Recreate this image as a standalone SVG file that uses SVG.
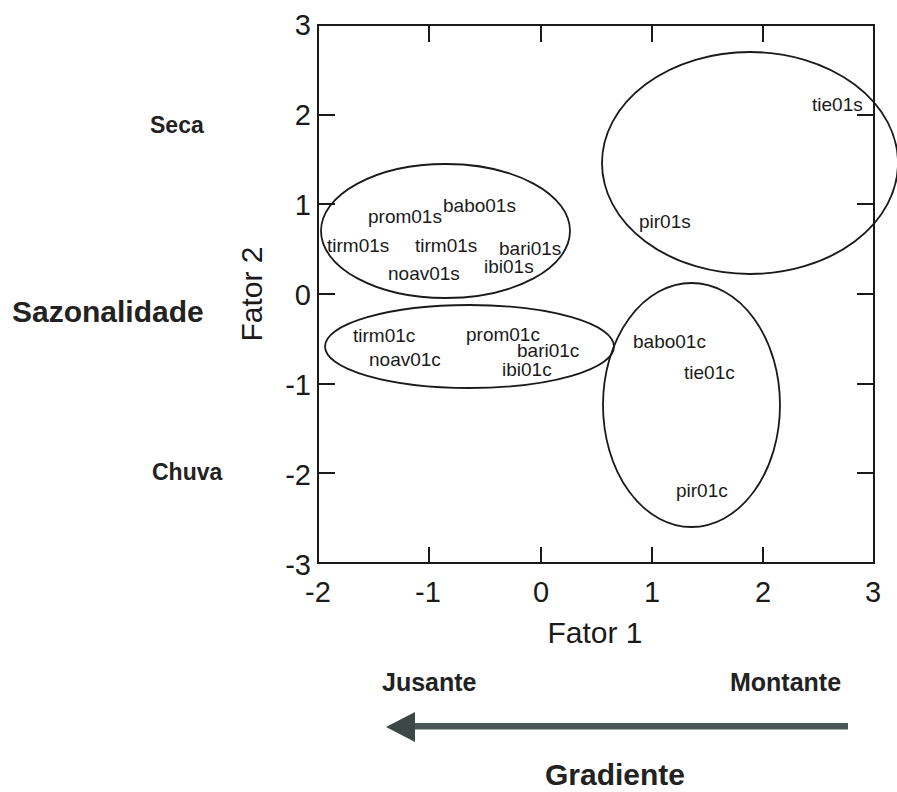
<svg xmlns="http://www.w3.org/2000/svg" width="897" height="792" viewBox="0 0 897 792">
<style>
.ax{stroke:#1a1a1a;stroke-width:2;fill:none}
.el{stroke:#1a1a1a;stroke-width:1.8;fill:none}
.tk{font-family:"Liberation Sans",Arial,sans-serif;font-size:29px;fill:#1a1a1a}
.lb{font-family:"Liberation Sans",Arial,sans-serif;font-size:19px;fill:#1a1a1a}
.ttl{font-family:"Liberation Sans",Arial,sans-serif;font-size:30px;fill:#1a1a1a}
.bd{font-family:"Liberation Sans",Arial,sans-serif;font-weight:bold;fill:#222}
</style>
<rect width="897" height="792" fill="#fff"/>
<g id="axes">
<rect class="ax" x="318" y="25" width="556" height="538"/>
<path class="ax" d="M429,25v17M541,25v17M652,25v17M763,25v17M429,563v-16M541,563v-16M652,563v-16M763,563v-16M318,115h17M318,204h17M318,294h17M318,384h17M318,473h17M874,115h-17M874,204h-17M874,294h-17M874,384h-17M874,473h-17"/>
<g class="tk" text-anchor="middle">
<text x="318" y="602">-2</text>
<text x="428" y="602">-1</text>
<text x="541" y="602">0</text>
<text x="652" y="602">1</text>
<text x="763" y="602">2</text>
<text x="873" y="602">3</text>
</g>
<g class="tk" text-anchor="end">
<text x="311" y="35">3</text>
<text x="311" y="125">2</text>
<text x="311" y="215">1</text>
<text x="311" y="305">0</text>
<text x="311" y="395">-1</text>
<text x="311" y="485">-2</text>
<text x="311" y="575">-3</text>
</g>
<text class="ttl" x="595" y="643" text-anchor="middle">Fator 1</text>
<text class="ttl" transform="translate(262,294) rotate(-90)" text-anchor="middle">Fator 2</text>
</g>
<g id="group-seca-left">
<ellipse class="el" cx="445.5" cy="231" rx="124.5" ry="67"/>
<text class="lb" x="368" y="223">prom01s</text>
<text class="lb" x="443" y="212">babo01s</text>
<text class="lb" x="327" y="252">tirm01s</text>
<text class="lb" x="415" y="252">tirm01s</text>
<text class="lb" x="499" y="255">bari01s</text>
<text class="lb" x="484" y="273">ibi01s</text>
<text class="lb" x="388" y="280">noav01s</text>
</g>
<g id="group-seca-right">
<ellipse class="el" cx="750" cy="163" rx="148" ry="111"/>
<text class="lb" x="812" y="111">tie01s</text>
<text class="lb" x="639" y="228">pir01s</text>
</g>
<g id="group-chuva-left">
<ellipse class="el" cx="469.5" cy="346.5" rx="144.5" ry="41.5"/>
<text class="lb" x="353" y="342">tirm01c</text>
<text class="lb" x="369" y="366">noav01c</text>
<text class="lb" x="466" y="341">prom01c</text>
<text class="lb" x="517" y="357">bari01c</text>
<text class="lb" x="502" y="376">ibi01c</text>
</g>
<g id="group-chuva-right">
<ellipse class="el" cx="691.5" cy="405" rx="88.5" ry="122"/>
<text class="lb" x="633" y="348">babo01c</text>
<text class="lb" x="684" y="379">tie01c</text>
<text class="lb" x="676" y="497">pir01c</text>
</g>
<g id="side-labels">
<text class="bd" x="150" y="133" font-size="23">Seca</text>
<text class="bd" x="12" y="322" font-size="30">Sazonalidade</text>
<text class="bd" x="152" y="480" font-size="23">Chuva</text>
</g>
<g id="gradient">
<text class="bd" x="382" y="691" font-size="25">Jusante</text>
<text class="bd" x="730" y="691" font-size="25">Montante</text>
<text class="bd" x="615" y="785" font-size="30" text-anchor="middle">Gradiente</text>
</g>
<g id="connectors">
<rect x="412" y="723" width="436" height="6.5" fill="#4b5757"/>
<polygon points="386,727 415,712 415,742" fill="#3e4747"/>
</g>
</svg>
